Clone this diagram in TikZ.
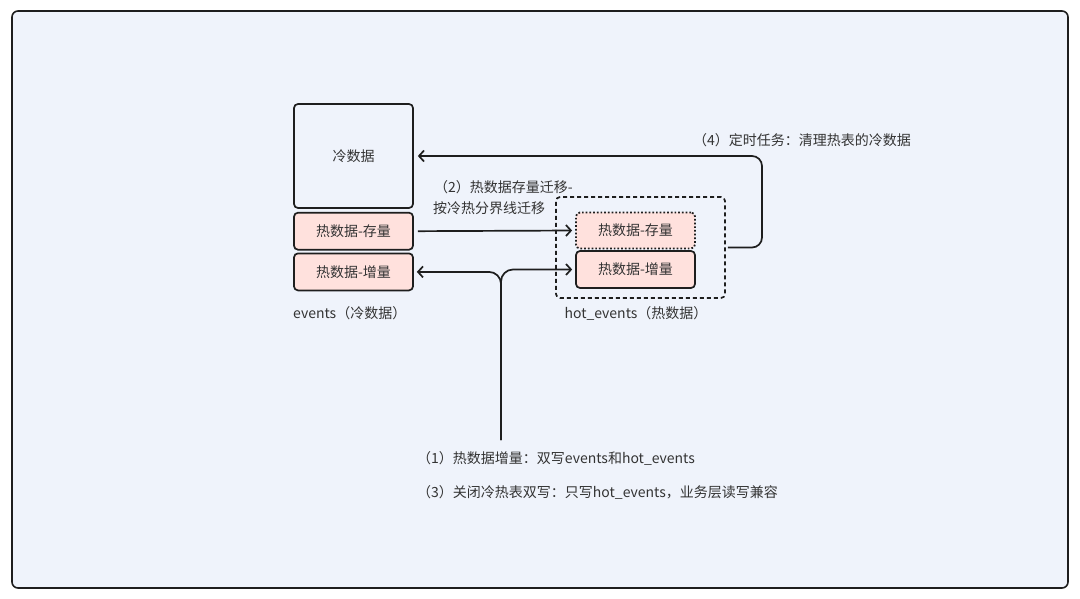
\documentclass[tikz,border=0pt]{standalone}
\usepackage{fontspec}
\setmainfont{Noto Sans CJK SC}
\usepackage{tikz}
\usetikzlibrary{arrows.meta, positioning}

\definecolor{bgblue}{HTML}{EFF3FB}
\definecolor{hotpink}{HTML}{FFE1DD}
\definecolor{inkdark}{HTML}{1E1E1E}
\definecolor{txtgray}{HTML}{333333}

\begin{document}
\begin{tikzpicture}[
  x=1pt, y=-1pt,
  font=\fontsize{14}{16}\selectfont, text=txtgray,
  table/.style={draw=inkdark, line width=1.7pt, rounded corners=4pt, minimum width=119pt, inner sep=0pt},
  hot/.style={table, fill=hotpink, minimum height=37pt},
  edge/.style={-{Straight Barb[length=5pt, width=11pt]}, line width=1.7pt, draw=inkdark},
  caption/.style={anchor=west, inner sep=0pt}
]
\useasboundingbox (0,0) rectangle (1080,599);
\draw[fill=bgblue, draw=inkdark, line width=1.6pt, rounded corners=6pt] (12,11) rectangle (1068,588);

% events table
\node[table, minimum height=104pt] (cold) at (353.5,156) {冷数据};
\node[hot, below=3pt of cold] (lstock) {热数据-存量};
\node[hot, below=2pt of lstock] (lincr) {热数据-增量};
\node[caption] (eventslbl) at (293,313) {events（冷数据）};

% hot_events table
\node[draw=inkdark, line width=1.7pt, dashed, dash pattern=on 4pt off 3pt, rounded corners=4pt,
  minimum width=169pt, minimum height=101pt] (hotgroup) at (640.5,247.5) {};
\node[hot, dotted, line width=1.8pt, minimum height=36pt] (rstock) at (635.5,230.5) {热数据-存量};
\node[hot] (rincr) at (635.5,269.5) {热数据-增量};
\node (hotlbl) at (636,313) {hot\_events（热数据）};

% (1) double write
\coordinate (writer) at (501,440);
\draw[edge, rounded corners=12pt, shorten >=3pt] (writer) -- (writer |- lincr.east) -- (lincr.east);
\draw[edge, rounded corners=12pt, shorten >=3pt] (writer) -- (writer |- rincr.west) -- (rincr.west);
\node[caption] (step1) at (417,458) {（1）热数据增量：双写events和hot\_events};
\node[caption] (step3) at (417,492) {（3）关闭冷热表双写：只写hot\_events，业务层读写兼容};

% (2) migrate stock
\draw[edge, shorten <=4pt, shorten >=3pt] (lstock.east) -- (rstock.west);
\node[caption] (step2a) at (434,187) {（2）热数据存量迁移-};
\node[caption] (step2b) at (433,208) {按冷热分界线迁移};

% (4) cleanup job
\draw[edge, rounded corners=10pt, shorten <=2pt, shorten >=4pt] (hotgroup.east) -- (762,247.5) |- (cold.east);
\node[caption] (step4) at (693,140) {（4）定时任务：清理热表的冷数据};
\end{tikzpicture}
\end{document}
